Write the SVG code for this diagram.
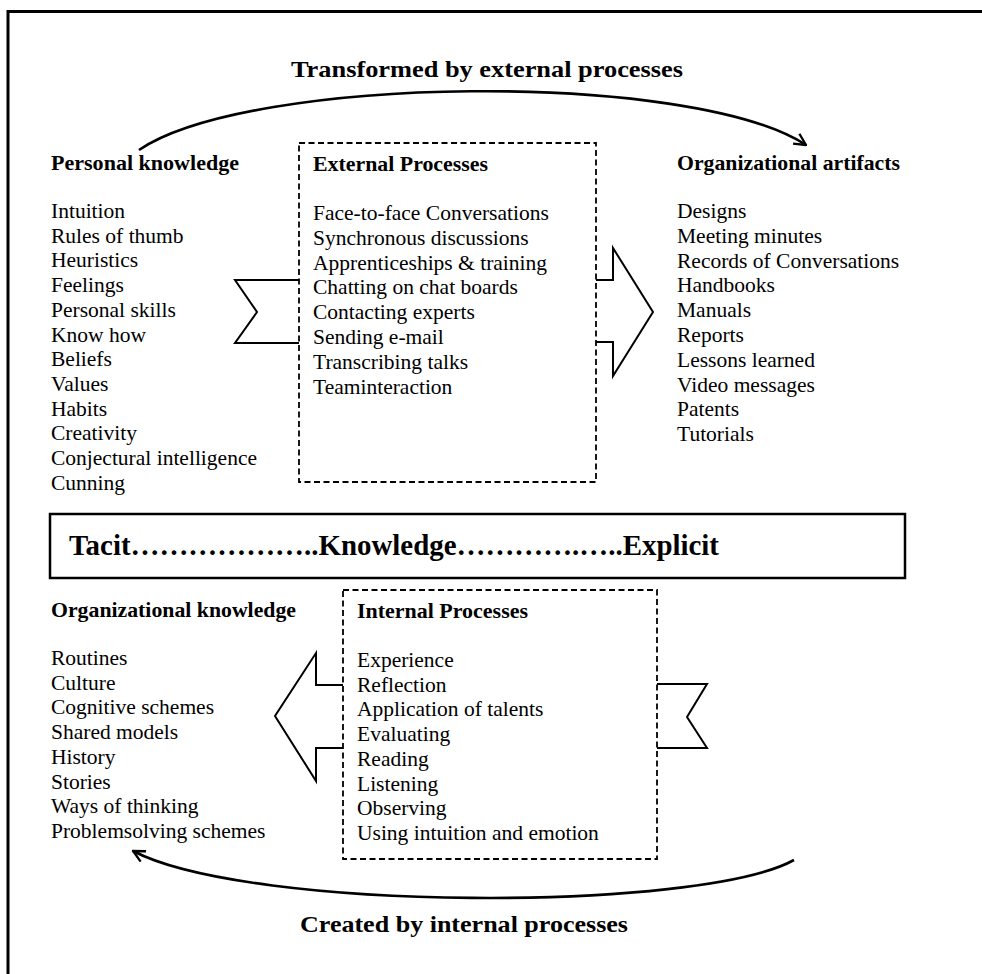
<svg xmlns="http://www.w3.org/2000/svg" width="982" height="974" viewBox="0 0 982 974">
  <style>
    text { font-family: "Liberation Serif", "Times New Roman", serif; fill: #000; }
    .item { font-size: 21.5px; }
    .head { font-size: 21.5px; font-weight: bold; }
    .title { font-size: 24px; font-weight: bold; }
    .band { font-size: 30px; font-weight: bold; }
    .dash { fill: none; stroke: #000; stroke-width: 1.8; stroke-dasharray: 6 3.5; }
    .shape { fill: #fff; stroke: #000; stroke-width: 2; stroke-linejoin: miter; }
    .arc { fill: none; stroke: #000; stroke-width: 2.6; }
    .frame { fill: none; stroke: #000; stroke-width: 3; }
  </style>
  <defs>
    <marker id="openArrow" viewBox="0 0 12 12" refX="11" refY="6" markerWidth="14" markerHeight="14" markerUnits="userSpaceOnUse" orient="auto">
      <path d="M1,1 L11,6 L1,11" fill="none" stroke="#000" stroke-width="2"/>
    </marker>
  </defs>

  <rect width="982" height="974" fill="#fff"/>

  <!-- outer frame (top and left edges) -->
  <path class="frame" d="M8,974 L8,11.5 L982,11.5"/>

  <!-- connectors: curved flows and block arrows -->
  <g id="connectors">
    <path class="arc" d="M139,150 C250,75 690,70 806,145" marker-end="url(#openArrow)"/>
    <path class="arc" d="M794,860 C700,912 250,912 133,851" marker-end="url(#openArrow)"/>
    <!-- notched tail into external processes -->
    <path class="shape" d="M299,280 L235,280 L257,312 L235,343 L299,343"/>
    <!-- block arrow out of external processes -->
    <path class="shape" d="M596,280 L613,280 L613,248 L653,312 L613,376 L613,342 L596,342"/>
    <!-- block arrow out of internal processes -->
    <path class="shape" d="M343,685 L316,685 L316,653 L275,716 L316,781 L316,748 L343,748"/>
    <!-- notched tail into internal processes -->
    <path class="shape" d="M657,684 L707,684 L687,717 L707,748 L657,748"/>
  </g>

  <g id="label-top">
    <text class="title" x="291" y="77" textLength="392" lengthAdjust="spacingAndGlyphs">Transformed by external processes</text>
  </g>

  <g id="personal-knowledge">
    <text class="head" x="51" y="170" textLength="188" lengthAdjust="spacingAndGlyphs">Personal knowledge</text>
    <text class="item" x="51" y="218">Intuition</text>
    <text class="item" x="51" y="242.7">Rules of thumb</text>
    <text class="item" x="51" y="267.4">Heuristics</text>
    <text class="item" x="51" y="292.1">Feelings</text>
    <text class="item" x="51" y="316.8">Personal skills</text>
    <text class="item" x="51" y="341.5">Know how</text>
    <text class="item" x="51" y="366.2">Beliefs</text>
    <text class="item" x="51" y="390.9">Values</text>
    <text class="item" x="51" y="415.6">Habits</text>
    <text class="item" x="51" y="440.3">Creativity</text>
    <text class="item" x="51" y="465">Conjectural intelligence</text>
    <text class="item" x="51" y="489.7">Cunning</text>
  </g>

  <g id="external-processes">
    <rect class="dash" x="299" y="143" width="297" height="339"/>
    <text class="head" x="313" y="171" textLength="175" lengthAdjust="spacingAndGlyphs">External Processes</text>
    <text class="item" x="313" y="220">Face-to-face Conversations</text>
    <text class="item" x="313" y="244.8">Synchronous discussions</text>
    <text class="item" x="313" y="269.6">Apprenticeships &amp; training</text>
    <text class="item" x="313" y="294.4">Chatting on chat boards</text>
    <text class="item" x="313" y="319.2">Contacting experts</text>
    <text class="item" x="313" y="344">Sending e-mail</text>
    <text class="item" x="313" y="368.8">Transcribing talks</text>
    <text class="item" x="313" y="393.6">Teaminteraction</text>
  </g>

  <g id="organizational-artifacts">
    <text class="head" x="677" y="170" textLength="223" lengthAdjust="spacingAndGlyphs">Organizational artifacts</text>
    <text class="item" x="677" y="218">Designs</text>
    <text class="item" x="677" y="242.8">Meeting minutes</text>
    <text class="item" x="677" y="267.6">Records of Conversations</text>
    <text class="item" x="677" y="292.4">Handbooks</text>
    <text class="item" x="677" y="317.2">Manuals</text>
    <text class="item" x="677" y="342">Reports</text>
    <text class="item" x="677" y="366.8">Lessons learned</text>
    <text class="item" x="677" y="391.6">Video messages</text>
    <text class="item" x="677" y="416.4">Patents</text>
    <text class="item" x="677" y="441.2">Tutorials</text>
  </g>

  <g id="knowledge-spectrum">
    <rect x="50" y="514" width="855" height="64" fill="#fff" stroke="#000" stroke-width="2.5"/>
    <text class="band" x="69" y="555" textLength="650" lengthAdjust="spacingAndGlyphs">Tacit………………..Knowledge………….…..Explicit</text>
  </g>

  <g id="organizational-knowledge">
    <text class="head" x="51" y="617" textLength="245" lengthAdjust="spacingAndGlyphs">Organizational knowledge</text>
    <text class="item" x="51" y="665">Routines</text>
    <text class="item" x="51" y="689.7">Culture</text>
    <text class="item" x="51" y="714.4">Cognitive schemes</text>
    <text class="item" x="51" y="739.1">Shared models</text>
    <text class="item" x="51" y="763.8">History</text>
    <text class="item" x="51" y="788.5">Stories</text>
    <text class="item" x="51" y="813.2">Ways of thinking</text>
    <text class="item" x="51" y="837.9">Problemsolving schemes</text>
  </g>

  <g id="internal-processes">
    <rect class="dash" x="343" y="590" width="314" height="269"/>
    <text class="head" x="357" y="618" textLength="171" lengthAdjust="spacingAndGlyphs">Internal Processes</text>
    <text class="item" x="357" y="667">Experience</text>
    <text class="item" x="357" y="691.7">Reflection</text>
    <text class="item" x="357" y="716.4">Application of talents</text>
    <text class="item" x="357" y="741.1">Evaluating</text>
    <text class="item" x="357" y="765.8">Reading</text>
    <text class="item" x="357" y="790.5">Listening</text>
    <text class="item" x="357" y="815.2">Observing</text>
    <text class="item" x="357" y="839.9">Using intuition and emotion</text>
  </g>

  <g id="label-bottom">
    <text class="title" x="300" y="932" textLength="328" lengthAdjust="spacingAndGlyphs">Created by internal processes</text>
  </g>
</svg>
